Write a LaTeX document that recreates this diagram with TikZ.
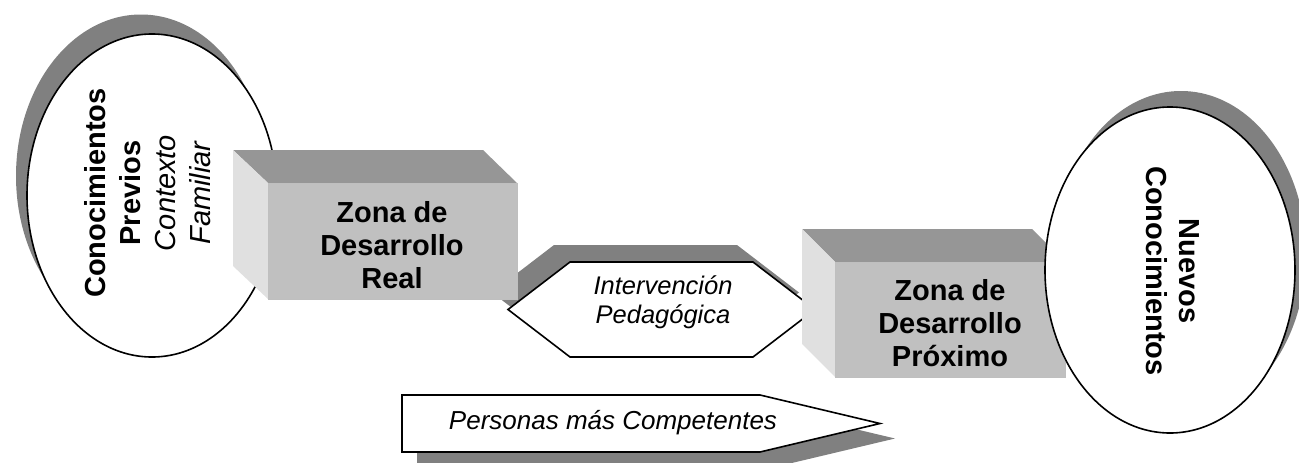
\documentclass[tikz,border=0pt]{standalone}
\usepackage{fontspec}
\setmainfont{Liberation Sans}
\definecolor{shadowgray}{HTML}{808080}
\definecolor{topface}{HTML}{969696}
\definecolor{frontface}{HTML}{C0C0C0}
\definecolor{sideface}{HTML}{E0E0E0}
\begin{document}
\begin{tikzpicture}[x=1pt,y=-1pt,
  outl/.style={draw=black,line width=1.6pt,fill=white},
  shad/.style={fill=shadowgray,draw=none},
  topf/.style={fill=topface,draw=none},
  sidef/.style={fill=sideface,draw=none},
  frontf/.style={fill=frontface,draw=black!25,line width=0.8pt},
  boldtxt/.style={font=\fontsize{29}{33}\selectfont\bfseries,align=center,inner sep=0pt},
  itxt/.style={font=\fontsize{25.5}{29}\selectfont\itshape,align=center,inner sep=0pt}]
\useasboundingbox (0,0) rectangle (1299,463);
% left ellipse
\fill[shad] (141,176) ellipse [x radius=125pt, y radius=161.5pt];
\draw[outl] (152,195.5) ellipse [x radius=125pt, y radius=161.5pt];
% hexagon
\fill[shad] (492,292.5) -- (554,245) -- (737,245) -- (799,292.5) -- (737,340) -- (554,340) -- cycle;
\draw[outl] (508,309.5) -- (570,262) -- (753,262) -- (815,309.5) -- (753,357) -- (570,357) -- cycle;
% arrow
\fill[shad] (417,410) -- (775,410) -- (895,438.5) -- (775,467) -- (417,467) -- cycle;
\draw[outl] (402,395) -- (760,395) -- (880,423.5) -- (760,452) -- (402,452) -- cycle;
% Real box
\fill[topf] (233,150) -- (483,150) -- (517,183) -- (268,183) -- cycle;
\fill[sidef] (233,150) -- (268,183) -- (268,299) -- (233,266) -- cycle;
\filldraw[frontf] (268,183) rectangle (517,299);
% Proximo box
\fill[topf] (802,229) -- (1032,229) -- (1065,262) -- (835,262) -- cycle;
\fill[sidef] (802,229) -- (835,262) -- (835,377) -- (802,344) -- cycle;
\filldraw[frontf] (835,262) rectangle (1065,377);
% right ellipse
\fill[shad] (1181,254) ellipse [x radius=125pt, y radius=163pt];
\draw[outl] (1170,270) ellipse [x radius=125pt, y radius=163pt];
% texts
\node[boldtxt,rotate=90,font=\fontsize{29}{35}\selectfont\bfseries] (previos) at (148,193)
  {Conocimientos\\Previos\\{\mdseries\itshape Contexto}\\{\mdseries\itshape Familiar}};
\node[boldtxt] (real) at (392,245) {Zona de\\Desarrollo\\Real};
\node[boldtxt] (proximo) at (950,323) {Zona de\\Desarrollo\\Próximo};
\node[boldtxt,rotate=-90] (nuevos) at (1173,271) {Nuevos\\Conocimientos};
\node[itxt] (interv) at (663,302) {Intervención\\Pedagógica};
\node[itxt,font=\fontsize{26}{29}\selectfont\itshape] (personas) at (613,423) {Personas más Competentes};
\end{tikzpicture}
\end{document}
